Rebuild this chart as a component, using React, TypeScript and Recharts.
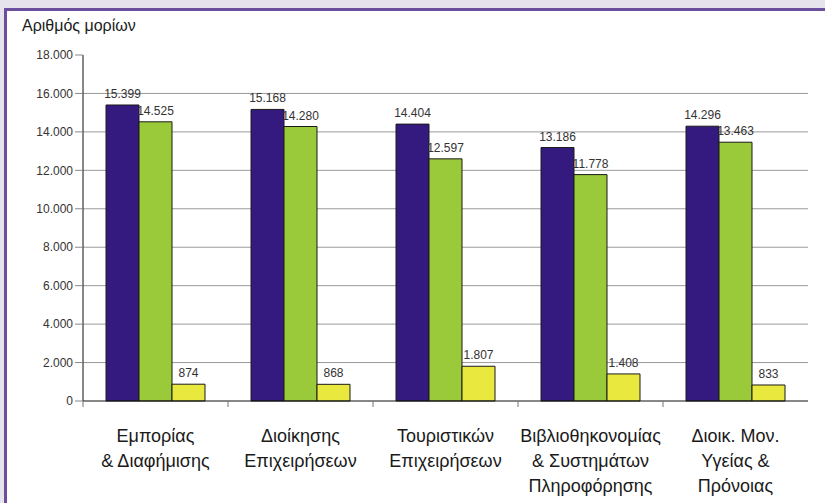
import React from 'react';
import { BarChart, Bar, XAxis, YAxis, CartesianGrid, LabelList } from 'recharts';

const categories: string[][] = [
  ['Εμπορίας', '& Διαφήμισης'],
  ['Διοίκησης', 'Επιχειρήσεων'],
  ['Τουριστικών', 'Επιχειρήσεων'],
  ['Βιβλιοθηκονομίας', '& Συστημάτων', 'Πληροφόρησης'],
  ['Διοικ. Μον.', 'Υγείας &', 'Πρόνοιας'],
];
const seriesA = [15399, 15168, 14404, 13186, 14296];
const seriesB = [14525, 14280, 12597, 11778, 13463];
const seriesC = [874, 868, 1807, 1408, 833];
const yTicks = [0, 2000, 4000, 6000, 8000, 10000, 12000, 14000, 16000, 18000];
const gridValues = [2000, 4000, 6000, 8000, 10000, 12000, 14000, 16000];
const yTitle = 'Αριθμός μορίων';

const data = categories.map((lines, i) => ({
  name: lines.join('|'),
  a: seriesA[i],
  b: seriesB[i],
  c: seriesC[i],
}));

const fmt = (v: any) => String(v).replace(/\B(?=(\d{3})+(?!\d))/g, '.');
const FONT = '"Liberation Sans", Arial, sans-serif';

const CatTick = (props: any) => {
  const { x, y, payload } = props;
  const lines = String(payload.value).split('|');
  const half = Number(payload && payload.offset) || 0;
  const edge = x - half;
  return (
    <g>
      {half > 0 && <line x1={edge} y1={y} x2={edge} y2={y + 6} stroke="#777" strokeWidth={1} />}
      <text x={x} y={y} textAnchor="middle" fontSize={18} fill="#1a1a1a" fontFamily={FONT}>
        {lines.map((l, i) => (
          <tspan key={i} x={x} dy={i === 0 ? 41 : 25}>
            {l}
          </tspan>
        ))}
      </text>
    </g>
  );
};

export default function App() {
  return (
    <div style={{ position: 'relative', width: 825, height: 503, background: '#e7e3ed', overflow: 'hidden' }}>
      <style>{`body{margin:0}`}</style>
      <div
        style={{
          position: 'absolute',
          left: 4,
          top: 8,
          width: 821,
          height: 495,
          background: '#ffffff',
          borderLeft: '3px solid #6a4f9d',
          borderTop: '3px solid #6a4f9d',
          boxSizing: 'border-box',
        }}
      />
      <div
        style={{
          position: 'absolute',
          left: 22,
          top: 17,
          fontSize: 16,
          fontFamily: FONT,
          color: '#1a1a1a',
        }}
      >
        {yTitle}
      </div>
      <div style={{ position: 'absolute', left: 0, top: 0 }}>
        <BarChart
          width={825}
          height={503}
          data={data}
          margin={{ top: 55, right: 17, bottom: 12, left: 0 }}
          barGap={0}
          barSize={33}
        >
          <CartesianGrid
            vertical={false}
            horizontalValues={gridValues}
            stroke="#9a9a9a"
          />
          <XAxis
            dataKey="name"
            height={90}
            axisLine={{ stroke: '#111' }}
            tickLine={false}
            tickSize={0}
            tickMargin={0}
            interval={0}
            tick={<CatTick />}
          />
          <YAxis
            domain={[0, 18000]}
            ticks={yTicks}
            interval={0}
            width={83}
            tickFormatter={fmt}
            tickSize={8}
            tickMargin={2}
            tick={{ fontSize: 12, fill: '#333', fontFamily: FONT }}
            axisLine={{ stroke: '#111' }}
            tickLine={{ stroke: '#888' }}
          />
          <Bar dataKey="a" fill="#341a7e" stroke="#1a1a1a" strokeWidth={1} isAnimationActive={false}>
            <LabelList dataKey="a" position="top" offset={7} formatter={fmt} fontSize={12} fill="#333" fontFamily={FONT} />
          </Bar>
          <Bar dataKey="b" fill="#9ac93a" stroke="#1a1a1a" strokeWidth={1} isAnimationActive={false}>
            <LabelList dataKey="b" position="top" offset={7} formatter={fmt} fontSize={12} fill="#333" fontFamily={FONT} />
          </Bar>
          <Bar dataKey="c" fill="#e8e83e" stroke="#1a1a1a" strokeWidth={1} isAnimationActive={false}>
            <LabelList dataKey="c" position="top" offset={7} formatter={fmt} fontSize={12} fill="#333" fontFamily={FONT} />
          </Bar>
        </BarChart>
      </div>
    </div>
  );
}
